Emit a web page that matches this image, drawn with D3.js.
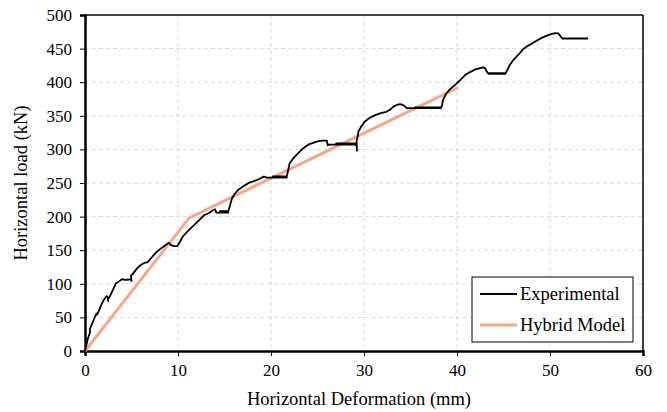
<!DOCTYPE html>
<html>
<head>
<meta charset="utf-8">
<script src="https://cdn.jsdelivr.net/npm/d3@7"></script>
<style>
  html, body { margin: 0; padding: 0; background: #fff; }
  svg text { font-family: "Liberation Serif", "Times New Roman", serif; fill: #000; }
</style>
</head>
<body>
<svg id="chart" width="667" height="412"></svg>
<script>
// Load–deformation data (mm, kN)
const expX = [0, 0.3, 0.5, 0.55, 0.5, 0.8, 1.1, 1.26, 1.3, 1.5, 1.8, 2.1, 2.33, 2.45, 2.5, 2.45, 2.6, 2.9, 3.3, 3.7, 4.0, 4.3, 4.6, 4.9, 5.0, 4.95, 5.1, 5.6, 6.0, 6.35, 6.7, 7.1, 7.6, 8.1, 8.5, 9.0, 9.3, 9.6, 9.9, 10.2, 10.5, 11.1, 11.7, 12.3, 12.8, 13.3, 13.7, 14.0, 14.1, 14.6, 15.0, 15.4, 15.0, 14.5, 15.4, 15.6, 15.8, 16.1, 16.5, 17.0, 17.6, 18.0, 18.5, 18.9, 19.2, 19.4, 19.5, 20.2, 20.9, 21.7, 21.0, 20.2, 21.7, 21.8, 22.0, 22.4, 22.9, 23.4, 24.0, 24.6, 25.0, 25.5, 25.8, 26.0, 26.1, 26.2, 27.0, 28.0, 29.2, 28.4, 27.0, 29.0, 29.2, 29.25, 29.2, 29.3, 29.4, 29.7, 30.1, 30.6, 31.2, 31.8, 32.4, 32.8, 33.2, 33.6, 33.9, 34.2, 34.4, 34.6, 35.8, 37.0, 38.3, 37.2, 35.5, 38.3, 38.4, 38.5, 38.8, 39.2, 39.8, 40.3, 40.9, 41.4, 41.9, 42.4, 42.8, 43.0, 43.1, 43.3, 44.2, 45.2, 44.3, 43.4, 45.2, 45.4, 45.7, 46.0, 46.4, 46.8, 47.1, 47.5, 48.0, 48.6, 49.1, 49.6, 50.2, 50.6, 50.9, 51.1, 51.3, 52.0, 53.0, 54.1];
const expY = [0, 18, 26, 30, 32, 42, 52, 56, 54, 60, 70, 78, 81.5, 80, 74, 78, 79, 88, 100, 104, 107, 106, 106, 107, 104, 112, 114, 123, 128, 131, 132, 138, 146, 152, 156, 161, 157, 156, 156, 162, 170, 179, 187, 195, 202, 205, 209, 211, 206, 206, 206, 206, 208, 208, 208, 217, 227, 234, 240, 245, 250, 252, 254.5, 257, 259.5, 259, 258, 258, 258, 258, 260, 260, 260, 266, 279, 287, 294, 301, 307, 310, 312, 313, 313, 313, 306, 307, 307, 307, 307, 309, 309, 309, 305, 298, 312, 318, 326.6, 334, 341.5, 347, 351, 354, 356, 359, 364, 366.5, 367.5, 366, 364, 361.5, 361.5, 361.5, 361.5, 362.5, 362.5, 362.5, 366, 374, 382, 389, 396, 402.6, 411, 415, 418.6, 420.5, 422, 421, 418.6, 413.6, 413.6, 413.6, 412.6, 412.6, 412.6, 418, 426, 432, 438, 444, 449, 453, 457, 462, 466, 469, 472, 473, 472.5, 469, 465, 465, 465, 465];
const hybX = [0, 11.2, 40.1];
const hybY = [0, 198, 392];

const xTicks = [0, 10, 20, 30, 40, 50, 60];
const yTicks = [0, 50, 100, 150, 200, 250, 300, 350, 400, 450, 500];
const seriesNames = ["Experimental", "Hybrid Model"];
const seriesColors = ["#000000", "#f4a98a"];

const svg = d3.select("#chart");
const pL = 85, pR = 643, pT = 15, pB = 351;

const x = d3.scaleLinear().domain([0, 60]).range([pL, pR]);
const y = d3.scaleLinear().domain([0, 500]).range([pB, pT]);

// Grid
const grid = svg.append("g").attr("stroke", "#d9d9d9").attr("stroke-width", 1).attr("stroke-dasharray", "4,3");
grid.selectAll("line.v").data(xTicks.slice(1, -1)).join("line").attr("class", "v")
  .attr("x1", d => x(d)).attr("x2", d => x(d)).attr("y1", pT).attr("y2", pB);
grid.selectAll("line.h").data(yTicks.slice(1, -1)).join("line").attr("class", "h")
  .attr("x1", pL).attr("x2", pR).attr("y1", d => y(d)).attr("y2", d => y(d));

// Frame
svg.append("line").attr("x1", pL).attr("x2", pR).attr("y1", pT).attr("y2", pT)
  .attr("stroke", "#444").attr("stroke-width", 2);
svg.append("line").attr("x1", pR).attr("x2", pR).attr("y1", pT).attr("y2", pB)
  .attr("stroke", "#000").attr("stroke-width", 1.5);

// Axes
const xAxis = svg.append("g").attr("transform", `translate(0,${pB})`)
  .call(d3.axisBottom(x).tickValues(xTicks).tickSize(5).tickPadding(8).tickFormat(d3.format("d")));
const yAxis = svg.append("g").attr("transform", `translate(${pL},0)`)
  .call(d3.axisLeft(y).tickValues(yTicks).tickSize(5).tickPadding(8).tickFormat(d3.format("d")));
[xAxis, yAxis].forEach(g => {
  g.select(".domain").attr("stroke", "#000").attr("stroke-width", 2.5);
  g.selectAll(".tick line").attr("stroke", "#000").attr("stroke-width", 1);
  g.selectAll("text").attr("font-size", 17);
});

// Series
const line = d3.line().x(d => x(d[0])).y(d => y(d[1]));
svg.append("path").datum(hybX.map((v, i) => [v, hybY[i]]))
  .attr("d", line).attr("fill", "none").attr("stroke", seriesColors[1]).attr("stroke-width", 3);
svg.append("path").datum(expX.map((v, i) => [v, expY[i]]))
  .attr("d", line).attr("fill", "none").attr("stroke", seriesColors[0]).attr("stroke-width", 1.8)
  .attr("stroke-linejoin", "round");

// Axis titles
svg.append("text").attr("x", 359).attr("y", 405).attr("text-anchor", "middle")
  .attr("font-size", 18.5).text("Horizontal Deformation (mm)");
svg.append("text").attr("transform", `translate(27,${(pT + pB) / 2}) rotate(-90)`)
  .attr("text-anchor", "middle").attr("font-size", 18.5).text("Horizontal load (kN)");

// Legend
const lg = svg.append("g");
lg.append("rect").attr("x", 472).attr("y", 277).attr("width", 161).attr("height", 65)
  .attr("fill", "#fff").attr("stroke", "#000").attr("stroke-width", 1);
seriesNames.forEach((name, i) => {
  const yy = 294 + i * 31;
  lg.append("line").attr("x1", 480).attr("x2", 517).attr("y1", yy).attr("y2", yy)
    .attr("stroke", seriesColors[i]).attr("stroke-width", i === 0 ? 1.8 : 3);
  lg.append("text").attr("x", 520).attr("y", yy + 6).attr("font-size", 18.5).text(name);
});
</script>
</body>
</html>
